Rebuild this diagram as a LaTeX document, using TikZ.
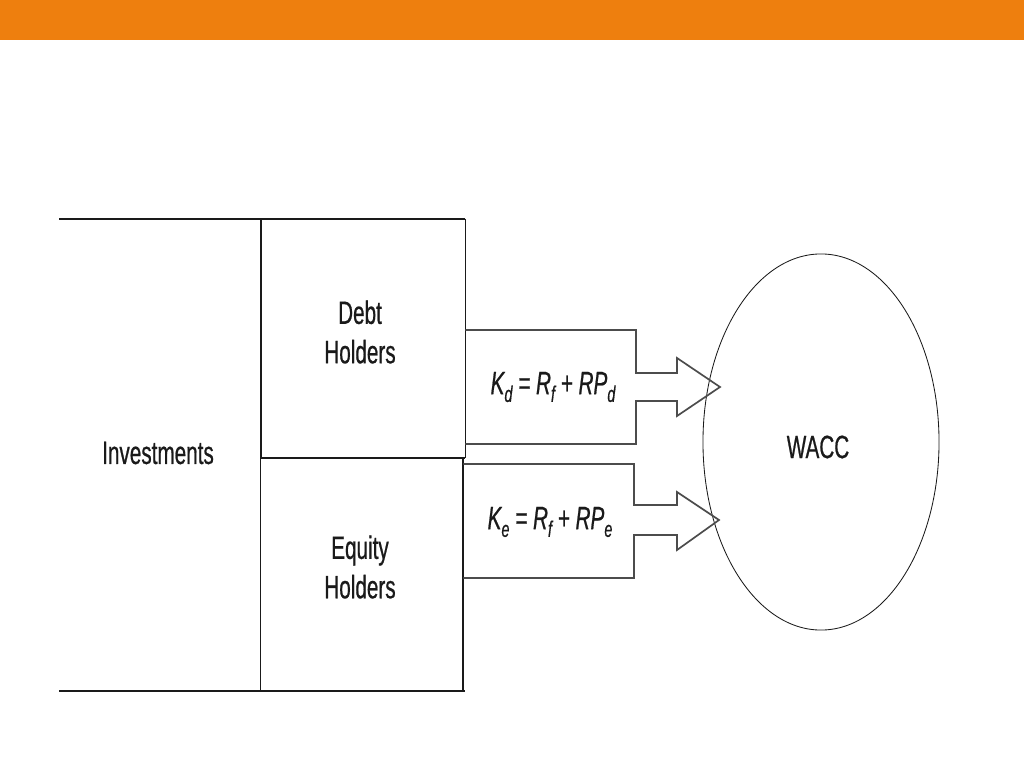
\documentclass[tikz,border=0pt]{standalone}
\usepackage{fontspec}
\setmainfont{Liberation Sans}
\newfontfamily\narrowsf[FakeStretch=0.64, FakeBold=0.6]{Liberation Sans}
\usepackage{xcolor}
\usetikzlibrary{shapes.geometric,positioning,calc}
\definecolor{banner}{HTML}{EE7F0E}
\definecolor{edge}{HTML}{1A1A1A}
\newcommand{\lowidx}[1]{\raisebox{-0.45ex}{\fontsize{16}{16}\selectfont #1}}

\begin{document}
\begin{tikzpicture}[x=0.025cm, y=-0.025cm,
    holder/.style={rectangle, inner sep=0pt, font=\fontsize{23}{28}\narrowsf, align=center, text=edge},
    formula/.style={inner sep=0pt, font=\fontsize{23}{24}\narrowsf\itshape, text=edge},
    thick edge/.style={draw=edge, line width=1.5pt},
    thin edge/.style={draw=edge, line width=0.7pt},
    flow/.style={draw=black!70, line width=1.2pt, line join=miter}
]
    \useasboundingbox (0,0) rectangle (1024,768);
    \fill[banner] (0,0) rectangle (1024,40);

    % Investments block
    \node[holder] (inv) at (158,453) {Investments};
    \draw[thick edge] (59,219) -- (465,219);
    \draw[thick edge] (59,691) -- (465,691);

    % Debt holders
    \node[holder, minimum width=5.1cm, minimum height=5.975cm] (debt) at (363,338.5) {};
    \node[holder] (debttxt) at (360,332) {Debt\\Holders};
    \draw[thick edge] (debt.north west) -- (debt.south west);
    \draw[thin edge] (debt.north east) -- (debt.south east);
    \draw[thick edge] (debt.south west) -- (debt.south east);

    % Equity holders
    \node[holder, minimum width=5.05cm, minimum height=5.825cm] (equity) at (362,574.5) {};
    \node[holder] (equitytxt) at (360,567) {Equity\\Holders};
    \draw[thin edge] (equity.north west) -- (equity.south west);
    \draw[thick edge] (equity.north east) -- (equity.south east);

    % WACC
    \node[ellipse, draw=edge, line width=0.6pt, minimum width=5.9cm, minimum height=9.4cm, inner sep=0pt] (wacc) at (821,442) {};
    \node[holder] (wacctxt) at (818,447) {WACC};

    % Cost of debt
    \draw[flow] (debt.east |- 0,330) -| (636,373) -- (677,373) -- (677,358) -- (720,387)
        -- (677,416) -- (677,401) -- (636,401) |- (debt.east |- 0,444);
    \node[formula] (kd) at (553,387) {K\lowidx{d} = R\lowidx{f} + RP\lowidx{d}};

    % Cost of equity
    \draw[flow] (equity.east |- 0,464) -| (634,505) -- (677,505) -- (677,492) -- (719,520)
        -- (677,550) -- (677,535) -- (634,535) |- (equity.east |- 0,578);
    \node[formula] (ke) at (550,522) {K\lowidx{e} = R\lowidx{f} + RP\lowidx{e}};
\end{tikzpicture}
\end{document}
